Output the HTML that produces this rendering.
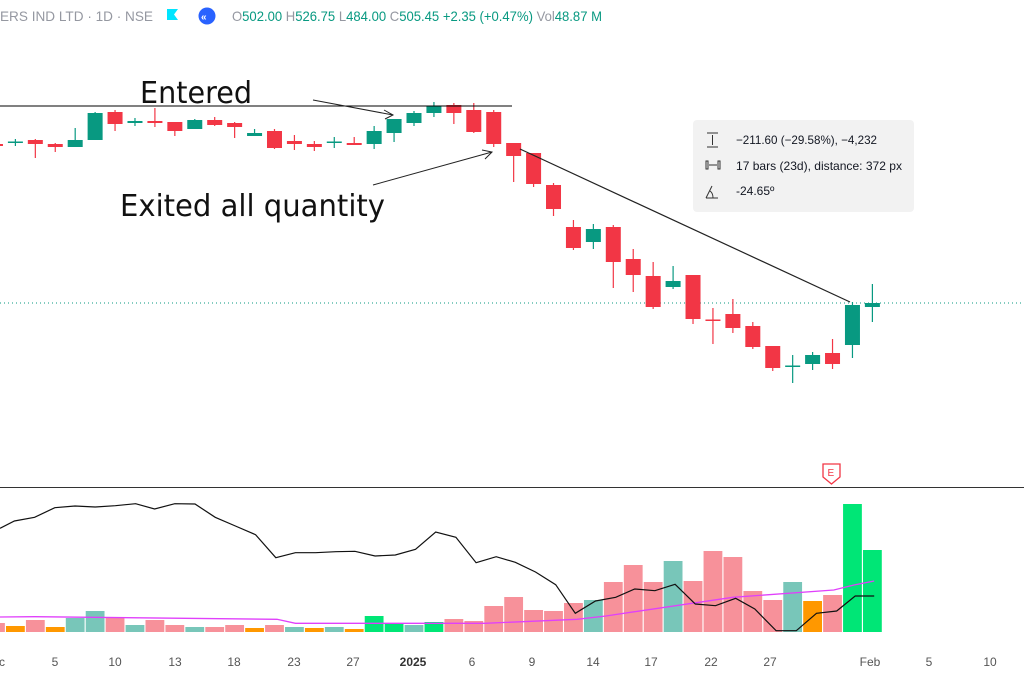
<!DOCTYPE html>
<html><head><meta charset="utf-8"><style>
html,body{margin:0;padding:0;background:#fff;width:1024px;height:675px;overflow:hidden}
svg{display:block;font-family:"Liberation Sans",sans-serif}
</style></head><body>
<svg id="s" width="1024" height="675" viewBox="0 0 1024 675" xmlns="http://www.w3.org/2000/svg">
<rect width="1024" height="675" fill="#fff"/>
<!-- header -->
<text x="0" y="21" font-size="14" fill="#9598a1" textLength="153" lengthAdjust="spacingAndGlyphs">ERS IND LTD · 1D · NSE</text>
<path d="M167 9h11l-4 5.5 4 5.5h-11z" fill="#00e5ff"/>
<circle cx="207" cy="16" r="8.5" fill="#2962ff"/>
<text x="201" y="20" font-size="10" fill="#fff" font-weight="bold">«</text>
<text x="232" y="21" font-size="14" fill="#9598a1" textLength="370" lengthAdjust="spacingAndGlyphs">O<tspan fill="#089981">502.00</tspan> H<tspan fill="#089981">526.75</tspan> L<tspan fill="#089981">484.00</tspan> C<tspan fill="#089981">505.45</tspan> <tspan fill="#089981">+2.35 (+0.47%)</tspan> Vol<tspan fill="#089981">48.87 M</tspan></text>
<!-- dotted price line -->
<line x1="0" y1="303" x2="1024" y2="303" stroke="#089981" stroke-dasharray="1,3"/>
<g id="c"></g>
<!-- drawings -->
<line x1="0" y1="106" x2="512" y2="106" stroke="#000" stroke-width="1"/>
<line x1="520" y1="149" x2="850" y2="302" stroke="#222" stroke-width="1.2"/>
<line x1="313" y1="100" x2="393" y2="115" stroke="#222"/>
<path d="M384 110 L393 115 L385 119" fill="none" stroke="#222"/>
<line x1="373" y1="185" x2="492" y2="152" stroke="#222"/>
<path d="M482 150 L492 152 L485 159" fill="none" stroke="#222"/>
<text x="140" y="103" font-size="30" fill="#111" font-family="DejaVu Sans, sans-serif" textLength="112" lengthAdjust="spacingAndGlyphs">Entered</text>
<text x="120" y="216" font-size="30" fill="#111" font-family="DejaVu Sans, sans-serif" textLength="265" lengthAdjust="spacingAndGlyphs">Exited all quantity</text>
<!-- info box -->
<rect x="693" y="120" width="221" height="92" rx="4" fill="#f2f2f2"/>
<g stroke="#333" fill="none" stroke-width="1">
<line x1="707" y1="133" x2="718" y2="133"/><line x1="707" y1="147" x2="718" y2="147"/><line x1="712.5" y1="135" x2="712.5" y2="145"/>
<rect x="706" y="161" width="2" height="8"/><rect x="718" y="161" width="2" height="8"/><line x1="709" y1="165" x2="717" y2="165"/>
<path d="M706 198 L712 186 M706 198 L718 198 M710 191 q3 2 3 7"/>
</g>
<text x="736" y="144" font-size="12" fill="#131722" textLength="141" lengthAdjust="spacingAndGlyphs">−211.60 (−29.58%), −4,232</text>
<text x="736" y="170" font-size="12" fill="#131722" textLength="166" lengthAdjust="spacingAndGlyphs">17 bars (23d), distance: 372 px</text>
<text x="736" y="195" font-size="12" fill="#131722">-24.65º</text>
<!-- pane separator -->
<line x1="0" y1="487.5" x2="1024" y2="487.5" stroke="#333"/>
<path d="M823 464h17v13l-8.5 7-8.5-7z" fill="#fff" stroke="#f23645" stroke-width="1.3"/>
<text x="827.5" y="476" font-size="10" fill="#f23645">E</text>
<g id="v"></g>
<polyline id="m" fill="none" stroke="#e040fb" stroke-width="1.3"/>
<polyline id="b" fill="none" stroke="#111" stroke-width="1.2"/>
<!-- axis -->
<g font-size="12" fill="#555" text-anchor="middle">
<text x="2" y="666">c</text><text x="55" y="666">5</text><text x="115" y="666">10</text><text x="175" y="666">13</text><text x="234" y="666">18</text><text x="294" y="666">23</text><text x="353" y="666">27</text><text x="413" y="666" font-weight="bold" fill="#333">2025</text><text x="472" y="666">6</text><text x="532" y="666">9</text><text x="593" y="666">14</text><text x="651" y="666">17</text><text x="711" y="666">22</text><text x="770" y="666">27</text><text x="870" y="666">Feb</text><text x="929" y="666">5</text><text x="990" y="666">10</text>
</g>
</svg>
<script>
var NS="http://www.w3.org/2000/svg";
function X(k){return 15.4+19.93*k;}
function el(t,a,p){var e=document.createElementNS(NS,t);for(var k in a)e.setAttribute(k,a[k]);p.appendChild(e);return e;}
var G="#089981",R="#f23645";
var C=[[-1,R,144,146,141,147],[0,G,141.5,143,139,146],[1,R,140,144,139,158],[2,R,144,147,143,152],[3,G,140,147,128,147],[4,G,113,140,112,140],[5,R,112,124,110,131],[6,G,121,123,118,126],[7,R,121,123,108,127],[8,R,122,131,122,136],[9,G,120,129,119,129],[10,R,120,125,117,126],[11,R,123,127,122,138],[12,G,133,136,129,136],[13,R,131,148,129,149],[14,R,141,144,135,150],[15,R,144,147,141,151],[16,G,141.5,143,137,148],[17,R,143,145,137,145],[18,G,131,144,126,149],[19,G,119,133,119,142],[20,G,113,123,111,126],[21,G,106,113,102,117],[22,R,105,113,103,124],[23,R,110,132,103,133],[24,R,112,144,110,147],[25,R,143,156,143,182],[26,R,153,184,153,187],[27,R,185,209,183,216],[28,R,227,248,220,250],[29,G,229,242,224,249],[30,R,227,262,225,288],[31,R,259,275,249,292],[32,R,276,307,262,309],[33,G,281,287,266,289],[34,R,275,319,275,324],[35,R,319.5,321,308,344],[36,R,314,328,299,333],[37,R,326,347,322,349],[38,R,346,368,346,371],[39,G,365.5,367,355,383],[40,G,355,364,352,370],[41,R,353,364,339,369],[42,G,305,345,302,358],[43,G,303,307,284,322]];
var cg=document.getElementById("c");
C.forEach(function(c){var x=X(c[0]);
el("line",{x1:x,x2:x,y1:c[4],y2:c[5],stroke:c[1],"stroke-width":1.2},cg);
el("rect",{x:x-7.5,y:c[2],width:15,height:Math.max(1.5,c[3]-c[2]),fill:c[1]},cg);});
var P="#f7919a",T="#78c6b9",O="#ff9800",N="#00e676";
var V=[[-1,P,623],[0,O,626],[1,P,620],[2,O,627],[3,T,618],[4,T,611],[5,P,618],[6,T,625],[7,P,620],[8,P,625],[9,T,627],[10,P,627],[11,P,625],[12,O,628],[13,P,625],[14,T,627],[15,O,628],[16,T,627],[17,O,629],[18,N,616],[19,N,623],[20,T,625],[21,N,622],[22,P,619],[23,P,621],[24,P,606],[25,P,597],[26,P,610],[27,P,611],[28,P,603],[29,T,600],[30,P,582],[31,P,565],[32,P,582],[33,T,561],[34,P,581],[35,P,551],[36,P,557],[37,P,591],[38,P,600],[39,T,582],[40,O,601],[41,P,595],[42,N,504],[43,N,550]];
var vg=document.getElementById("v");
V.forEach(function(v){var x=X(v[0]);el("rect",{x:x-9.4,y:v[2],width:18.8,height:632-v[2],fill:v[1]},vg);});
function pts(a){return a.map(function(p){return (p[0]/1.733).toFixed(1)+","+(490+p[1]/3).toFixed(1);}).join(" ");}
document.getElementById("b").setAttribute("points",pts([[0,115],[25,93],[60,82],[95,53],[130,48],[165,51],[200,47],[235,41],[268,57],[303,41],[338,42],[373,82],[408,108],[443,134],[478,203],[512,188],[547,188],[582,185],[615,184],[650,198],[685,195],[720,178],[755,126],[790,142],[825,218],[860,200],[893,217],[928,246],[963,284],[997,370],[1032,333],[1067,322],[1100,297],[1135,302],[1170,283],[1205,342],[1240,347],[1275,325],[1308,357],[1345,422],[1380,422],[1415,370],[1450,363],[1482,318],[1515,318]]));
document.getElementById("m").setAttribute("points",pts([[0,381],[60,380],[480,388],[512,400],[840,400],[1000,388],[1050,378],[1100,365],[1270,322],[1445,300],[1480,285],[1515,273]]));
</script>
</body></html>
